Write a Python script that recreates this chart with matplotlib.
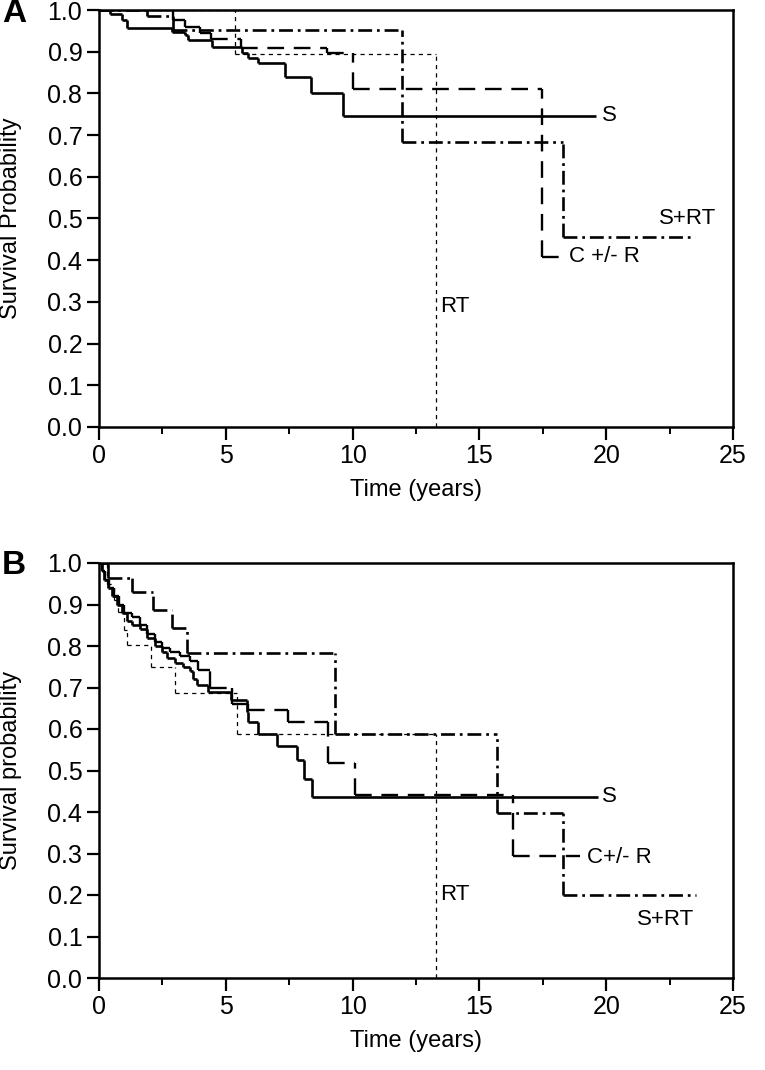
import matplotlib.pyplot as plt
from matplotlib.ticker import MultipleLocator

plt.rcParams['font.family'] = ['Liberation Sans', 'DejaVu Sans']
plt.rcParams['lines.scale_dashes'] = False

# ---- Panel A: step times (years), survival from that time on, end of follow-up
a_s_t = [0, 0.45, 0.9, 1.1, 2.86, 3.39, 3.52, 4.44, 5.62, 5.89, 6.28, 7.33, 8.36, 9.63]
a_s_v = [1.0, 0.99, 0.975, 0.956, 0.948, 0.94, 0.928, 0.912, 0.896, 0.884, 0.872, 0.84, 0.80, 0.746]
a_s_end = 19.6

a_srt_t = [0, 1.9, 2.9, 11.93, 18.28]
a_srt_v = [1.0, 0.985, 0.952, 0.684, 0.456]
a_srt_end = 23.5

a_cr_t = [0, 2.9, 3.4, 4.0, 4.4, 5.6, 9.0, 10.0, 17.47]
a_cr_v = [1.0, 0.975, 0.96, 0.945, 0.93, 0.91, 0.896, 0.81, 0.408]
a_cr_end = 18.3

a_rt_t = [0, 5.36, 13.28]
a_rt_v = [1.0, 0.895, 0.0]
a_rt_end = 13.28

# ---- Panel B
b_s_t = [0, 0.1, 0.2, 0.35, 0.5, 0.7, 0.9, 1.1, 1.3, 1.6, 1.9, 2.2, 2.5, 2.7, 3.0, 3.3,
         3.59, 3.72, 3.85, 4.3, 5.2, 5.82, 5.89, 6.28, 7.0, 7.8, 8.1, 8.4]
b_s_v = [1.0, 0.98, 0.96, 0.94, 0.92, 0.90, 0.88, 0.86, 0.85, 0.84, 0.82, 0.80, 0.785, 0.77,
         0.76, 0.75, 0.74, 0.72, 0.705, 0.69, 0.67, 0.642, 0.618, 0.588, 0.559, 0.525, 0.48, 0.437]
b_s_end = 19.69

b_cr_t = [0, 0.1, 0.25, 0.4, 0.6, 0.8, 1.0, 1.3, 1.6, 1.9, 2.2, 2.5, 2.8, 3.2, 3.6, 3.9,
          4.38, 5.23, 5.89, 7.46, 9.04, 10.1, 16.33]
b_cr_v = [1.0, 0.98, 0.96, 0.94, 0.92, 0.90, 0.88, 0.87, 0.85, 0.83, 0.81, 0.795, 0.785,
          0.775, 0.765, 0.742, 0.70, 0.66, 0.646, 0.618, 0.519, 0.44, 0.295]
b_cr_end = 18.95

b_srt_t = [0, 0.37, 1.29, 2.14, 2.86, 3.46, 9.3, 15.68, 18.3]
b_srt_v = [1.0, 0.963, 0.931, 0.887, 0.843, 0.782, 0.588, 0.397, 0.2]
b_srt_end = 23.56

b_rt_t = [0, 0.3, 0.6, 0.76, 1.0, 1.09, 2.05, 3.0, 5.43, 13.3]
b_rt_v = [1.0, 0.95, 0.91, 0.883, 0.838, 0.802, 0.749, 0.686, 0.588, 0.0]
b_rt_end = 13.3

# line styles for the four groups
styles = {
    'S': dict(colors='black', linewidths=1.9, linestyles='solid'),
    'S+RT': dict(colors='black', linewidths=1.9, linestyles=[(0, (10, 3.5, 2, 3.5))]),
    'CR': dict(colors='black', linewidths=1.7, linestyles=[(0, (12, 7))]),
    'RT': dict(colors='black', linewidths=0.9, linestyles=[(0, (3, 3))]),
}


def km_steps(ax, t, v, end, style):
    # one segment per step so the dash pattern restarts on each piece
    edges = list(t[1:]) + [end]
    ax.hlines(v, t, edges, **style)
    ax.vlines(t[1:], v[1:], v[:-1], **style)


def setup(ax, ylabel):
    ax.set_xlim(0, 25)
    ax.set_ylim(0, 1.0)
    ax.xaxis.set_major_locator(MultipleLocator(5))
    ax.xaxis.set_minor_locator(MultipleLocator(2.5))
    ax.yaxis.set_major_locator(MultipleLocator(0.1))
    ax.yaxis.set_major_formatter(plt.FuncFormatter(lambda y, p: f"{y:.1f}"))
    ax.tick_params(which='major', direction='out', length=9, width=1.6, labelsize=18, pad=3)
    ax.tick_params(which='minor', direction='out', length=5, width=1.4)
    for sp in ax.spines.values():
        sp.set_linewidth(1.8)
    ax.set_xlabel("Time (years)", fontsize=17, labelpad=8)
    ax.set_ylabel(ylabel, fontsize=17)
    ax.yaxis.set_label_coords(-0.121, 0.5)


fig = plt.figure(figsize=(7.65, 10.7), dpi=100)
axA = fig.add_axes([99 / 765, 1 - 427 / 1070, 634 / 765, 417 / 1070])
axB = fig.add_axes([99 / 765, 1 - 978 / 1070, 634 / 765, 415 / 1070])

km_steps(axA, a_rt_t, a_rt_v, a_rt_end, styles['RT'])
km_steps(axA, a_cr_t, a_cr_v, a_cr_end, styles['CR'])
km_steps(axA, a_srt_t, a_srt_v, a_srt_end, styles['S+RT'])
km_steps(axA, a_s_t, a_s_v, a_s_end, styles['S'])
setup(axA, "Survival Probability")
axA.text(19.85, 0.746, "S", fontsize=16, va='center')
axA.text(22.1, 0.50, "S+RT", fontsize=16, va='center')
axA.text(18.55, 0.408, "C +/- R", fontsize=16, va='center')
axA.text(13.45, 0.29, "RT", fontsize=16, va='center')

km_steps(axB, b_rt_t, b_rt_v, b_rt_end, styles['RT'])
km_steps(axB, b_cr_t, b_cr_v, b_cr_end, styles['CR'])
km_steps(axB, b_srt_t, b_srt_v, b_srt_end, styles['S+RT'])
km_steps(axB, b_s_t, b_s_v, b_s_end, styles['S'])
setup(axB, "Survival probability")
axB.text(19.85, 0.437, "S", fontsize=16, va='center')
axB.text(19.25, 0.29, "C+/- R", fontsize=16, va='center')
axB.text(21.2, 0.14, "S+RT", fontsize=16, va='center')
axB.text(13.45, 0.20, "RT", fontsize=16, va='center')

fig.text(2 / 765, 1 - 14 / 1070, "A", fontsize=24, fontweight='bold', va='center')
fig.text(2 / 765, 1 - 566 / 1070, "B", fontsize=24, fontweight='bold', va='center')

fig.savefig("out.png", dpi=100)
